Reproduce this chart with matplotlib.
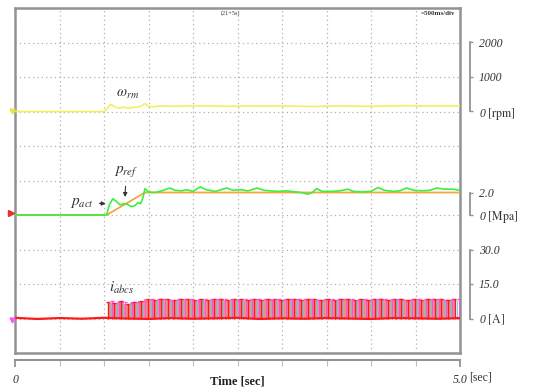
##
## === DEPENDENCIES
##

import matplotlib

matplotlib.use("Agg")
import matplotlib.pyplot as plt
import numpy

##
## === DATA (read off the scope capture)
##

## rotor speed [rpm]
RPM_TIME = [0.0, 0.5, 1.0, 1.03, 1.07, 1.10, 1.14, 1.18, 1.22, 1.26, 1.30, 1.34, 1.38, 1.42, 1.46, 1.50,
            1.55, 1.65, 1.8, 2.0, 2.2, 2.4, 2.6, 2.8, 3.0, 3.2, 3.4, 3.6, 3.8, 4.0, 4.2, 4.4, 4.6, 4.8, 5.0]
RPM_VALUE = [0, 0, 0, 60, 210, 170, 110, 100, 130, 95, 110, 120, 130, 160, 230, 150,
             140, 160, 150, 165, 160, 150, 160, 155, 160, 150, 145, 160, 155, 150, 160, 170, 160, 165, 160]

## pressure reference and actual [Mpa]
PREF_TIME = [0.0, 1.03, 1.46, 5.0]
PREF_VALUE = [0.0, 0.0, 2.0, 2.0]
PACT_TIME = [0.0, 1.0, 1.03, 1.06, 1.10, 1.14, 1.18, 1.22, 1.26, 1.31, 1.35, 1.38, 1.41, 1.44, 1.46, 1.50,
             1.57, 1.65, 1.74, 1.80, 1.87, 1.93, 2.0, 2.08, 2.15, 2.25, 2.38, 2.45, 2.53, 2.62, 2.72, 2.80,
             2.87, 2.95, 3.05, 3.15, 3.22, 3.29, 3.34, 3.39, 3.45, 3.55, 3.65, 3.74, 3.80, 3.90, 4.0, 4.08,
             4.15, 4.25, 4.32, 4.40, 4.48, 4.58, 4.66, 4.74, 4.82, 4.92, 5.0]
PACT_VALUE = [0, 0, 0.05, 0.9, 1.45, 1.2, 0.9, 1.0, 0.95, 0.75, 0.85, 1.1, 1.0, 1.6, 2.35, 2.05,
              2.0, 2.15, 2.4, 2.2, 2.15, 2.25, 2.1, 2.5, 2.25, 2.1, 2.4, 2.2, 2.25, 2.15, 2.4, 2.2,
              2.15, 2.1, 2.15, 2.05, 2.0, 1.85, 2.0, 2.35, 2.1, 2.1, 2.15, 2.3, 2.1, 2.05, 2.1, 2.45,
              2.2, 2.1, 2.15, 2.4, 2.2, 2.15, 2.2, 2.4, 2.3, 2.3, 2.2]

## phase currents [A]: pulse peaks, one every PULSE_STEP seconds per phase
PULSE_STEP = 0.075
IA_START, IB_START, IC_START = 1.04, 1.065, 1.09
IA_PEAKS = [7.2, 6.8, 7.4, 6.5, 7.0, 7.6,
            8.4, 8.2, 8.5, 8.3, 8.1, 8.4, 8.6, 8.2, 8.3, 8.0,
            8.4, 8.5, 8.2, 8.3, 8.6, 8.1, 8.4, 8.2, 8.3, 8.5,
            8.0, 8.3, 8.4, 8.2, 8.6, 8.3, 8.1, 8.4, 8.2, 8.5,
            8.3, 8.2, 8.4, 8.0, 8.3, 8.5, 8.2, 8.4, 8.3, 8.1,
            8.5, 8.2, 8.4, 8.3, 8.6, 8.2, 8.4]
IB_PEAKS = [6.9, 7.3, 6.2, 7.1, 7.5, 6.8,
            8.2, 8.4, 8.1, 8.5, 8.3, 8.2, 8.4, 8.0, 8.3, 8.5,
            8.2, 8.1, 8.4, 8.3, 8.5, 8.2, 8.0, 8.4, 8.3, 8.2,
            8.5, 8.3, 8.1, 8.4, 8.2, 8.3, 8.6, 8.2, 8.4, 8.1,
            8.3, 8.5, 8.2, 8.3, 8.4, 8.1, 8.3, 8.5, 8.2, 8.4,
            8.3, 8.1, 8.4, 8.2, 8.5, 8.3, 8.2]
IC_PEAKS = [7.6, 7.0, 7.3, 6.6, 7.2, 7.4,
            8.5, 8.3, 8.6, 8.2, 8.4, 8.5, 8.3, 8.2, 8.6, 8.4,
            8.3, 8.5, 8.4, 8.2, 8.6, 8.3, 8.5, 8.4, 8.2, 8.5,
            8.3, 8.6, 8.4, 8.3, 8.5, 8.2, 8.4, 8.6, 8.3, 8.5,
            8.4, 8.2, 8.5, 8.3, 8.6, 8.4, 8.3, 8.5, 8.2, 8.4,
            8.6, 8.3, 8.5, 8.4, 8.2, 8.5, 8.4]
IBASE_TIME = [0.0, 0.25, 0.5, 0.75, 1.0, 1.25, 1.5, 1.75, 2.0, 2.25, 2.5, 2.75, 3.0, 3.25, 3.5,
              3.75, 4.0, 4.25, 4.5, 4.75, 5.0]
IBASE_VALUE = [0.3, -0.2, 0.2, -0.1, 0.3, 0.0, -0.2, 0.2, -0.1, 0.1, 0.3, -0.2, 0.1, -0.1, 0.2,
               0.0, -0.2, 0.2, 0.1, -0.1, 0.2]

## right-hand scales: (ylim, tick values, tick labels)
RPM_SCALE = ((-7000, 3000), [0, 1000, 2000], ["0 $\\mathrm{[rpm]}$", "1000", "2000"])
MPA_PER_DIV = 3.07
MPA_SCALE = ((-4 * MPA_PER_DIV, 6 * MPA_PER_DIV), [0, 2.0], ["0 $\\mathrm{[Mpa]}$", "2.0"])
AMP_SCALE = ((-15, 135), [0, 15, 30], ["0 $\\mathrm{[A]}$", "15.0", "30.0"])

##
## === STYLE
##

FIG_W, FIG_H = 533, 392
BOX = [15 / FIG_W, 1 - 353 / FIG_H, 445 / FIG_W, 345 / FIG_H]
FRAME_GREY = "#939393"
GRID_GREY = "#b0b0b0"
TEXT_DARK = "#333333"


def make_channel_axes(fig, scale):
    ylim, ticks, labels = scale
    ax = fig.add_axes(BOX, facecolor="none")
    ax.set_xlim(0, 5)
    ax.set_ylim(*ylim)
    for side in ("top", "bottom", "left"):
        ax.spines[side].set_visible(False)
    ax.spines["right"].set_position(("outward", 7.5))
    ax.spines["right"].set_bounds(ticks[0], ticks[-1])
    ax.spines["right"].set_color(FRAME_GREY)
    ax.spines["right"].set_linewidth(1.3)
    ax.set_xticks([])
    ax.yaxis.tick_right()
    ax.set_yticks(ticks, labels)
    ax.tick_params(axis="y", direction="out", length=2.5, width=1.0, color=FRAME_GREY,
                   labelsize=8.5, pad=3.5, labelcolor=TEXT_DARK)
    for label in ax.get_yticklabels():
        label.set_fontstyle("italic")
    return ax


def main() -> None:
    plt.rcParams["font.family"] = ["Liberation Serif", "DejaVu Serif"]
    plt.rcParams["mathtext.fontset"] = "stix"
    fig = plt.figure(figsize=(FIG_W / 100, FIG_H / 100), dpi=100)

    ## scope screen with 10 x 10 divisions
    ax = fig.add_axes(BOX)
    ax.set_xlim(0, 5)
    ax.set_ylim(0, 10)
    ax.set_xticks(numpy.arange(0, 5.01, 0.5))
    ax.set_yticks(numpy.arange(0, 10.01, 1))
    ax.tick_params(length=0, labelbottom=False, labelleft=False)
    ax.grid(True, color=GRID_GREY, linestyle=(0, (1, 2.5)), linewidth=0.9)
    for spine in ax.spines.values():
        spine.set_color(FRAME_GREY)
        spine.set_linewidth(1.8)
    ax.text(2.42, 9.86, "(21+5s)", fontsize=4.5, ha="center", va="center", color=TEXT_DARK)
    ax.text(4.95, 9.84, "=500ms/div", fontsize=5, ha="right", va="center", color=TEXT_DARK,
            fontweight="bold")

    ## channels
    ax_rpm = make_channel_axes(fig, RPM_SCALE)
    ax_mpa = make_channel_axes(fig, MPA_SCALE)
    ax_amp = make_channel_axes(fig, AMP_SCALE)

    ax_rpm.plot(RPM_TIME, RPM_VALUE, color="#f0f060", linewidth=1.2)
    ax_rpm.plot([-0.035], [0], marker="v", markersize=3.5, color="#e6e640", clip_on=False)

    ax_mpa.plot(PACT_TIME, PACT_VALUE, color="#3cf03c", linewidth=1.2, zorder=3)
    ax_mpa.plot(PREF_TIME, PREF_VALUE, color="#f5a547", linewidth=1.3, zorder=2)
    ax_mpa.plot([-0.04], [0.2], marker=">", markersize=4, color="#e83030", clip_on=False)

    ia_time = IA_START + PULSE_STEP * numpy.arange(len(IA_PEAKS))
    ib_time = IB_START + PULSE_STEP * numpy.arange(len(IB_PEAKS))
    ic_time = IC_START + PULSE_STEP * numpy.arange(len(IC_PEAKS))
    ax_amp.fill_between(ia_time, 0, IA_PEAKS, step="mid", color="#f08c8c", linewidth=0)
    ax_amp.vlines(ib_time, 0, IB_PEAKS, color="#40dcec", linewidth=0.6)
    ax_amp.vlines(ic_time, 0, IC_PEAKS, color="#ff44ff", linewidth=0.6)
    ax_amp.vlines(ia_time, 0, IA_PEAKS, color="#ff1a1a", linewidth=1.0)
    ax_amp.hlines(IC_PEAKS, ic_time - 0.02, ic_time + 0.02, color="#ff44ff", linewidth=1.0)
    ax_amp.hlines(IA_PEAKS, ia_time - 0.02, ia_time + 0.02, color="#ff1a1a", linewidth=1.0)
    ax_amp.plot(IBASE_TIME, IBASE_VALUE, color="#ff1a1a", linewidth=1.6)
    ax_amp.plot([-0.035], [-0.5], marker="v", markersize=3.5, color="#ff55ff", clip_on=False)

    ## labels
    ax.text(1.26, 7.48, r"$\omega_{rm}$", fontsize=10.5, ha="center", va="center", color=TEXT_DARK)
    ax.annotate(r"$p_{ref}$", xy=(1.236, 4.52), xytext=(1.25, 5.25), fontsize=11, ha="center",
                va="center", color=TEXT_DARK,
                arrowprops=dict(arrowstyle="-|>", color=TEXT_DARK, lw=0.8, mutation_scale=6,
                                shrinkA=3, shrinkB=0))
    ax.annotate(r"$p_{act}$", xy=(1.02, 4.33), xytext=(0.75, 4.35), fontsize=11, ha="center",
                va="center", color=TEXT_DARK,
                arrowprops=dict(arrowstyle="-|>", color=TEXT_DARK, lw=0.8, mutation_scale=6,
                                shrinkA=2, shrinkB=0))
    ax.text(1.2, 1.88, r"$i_{abcs}$", fontsize=11, ha="center", va="center", color=TEXT_DARK)

    ## time bar below the screen
    ax_time = fig.add_axes([BOX[0], 1 - 360 / FIG_H, BOX[2], 0.0001], facecolor="none")
    ax_time.set_xlim(0, 5)
    ax_time.set_yticks([])
    for side in ("top", "left", "right"):
        ax_time.spines[side].set_visible(False)
    ax_time.spines["bottom"].set_color(FRAME_GREY)
    ax_time.spines["bottom"].set_linewidth(1.5)
    ax_time.set_xticks([0, 5], ["0", "5.0"])
    ax_time.set_xticks(numpy.arange(0.5, 4.51, 0.5), minor=True)
    ax_time.tick_params(axis="x", which="major", direction="out", length=5, width=1.3,
                        color=FRAME_GREY, labelsize=8.5, pad=5, labelcolor=TEXT_DARK)
    ax_time.tick_params(axis="x", which="minor", direction="out", length=4, width=0.8,
                        color="#c0c0c0")
    for label in ax_time.get_xticklabels():
        label.set_fontstyle("italic")
    fig.text(481 / FIG_W, 1 - 377 / FIG_H, "[sec]", fontsize=8.5, ha="center", va="center",
             color=TEXT_DARK)
    fig.text(237 / FIG_W, 1 - 381 / FIG_H, "Time [sec]", fontsize=9, fontweight="bold",
             ha="center", va="center", color="#222222")

    fig.savefig("out.png", dpi=100)


if __name__ == "__main__":
    main()
